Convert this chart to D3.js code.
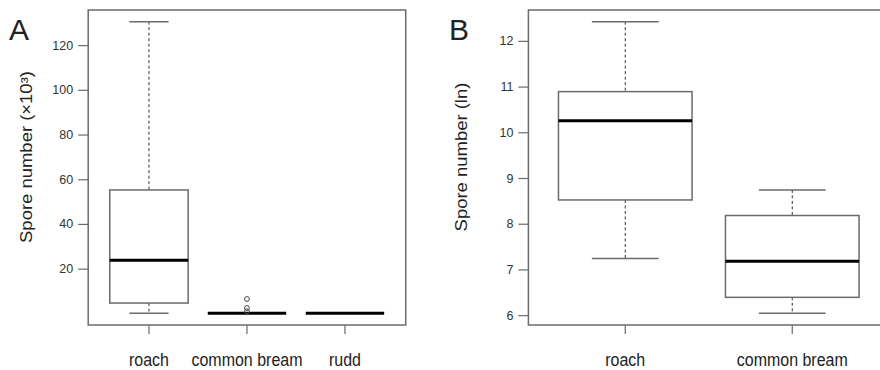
<!DOCTYPE html>
<html>
<head>
<meta charset="utf-8">
<script src="https://cdn.jsdelivr.net/npm/d3@7"></script>
<style>
  body { margin: 0; background: #fff; }
  text { font-family: "Liberation Sans", Arial, Helvetica, sans-serif; }
</style>
</head>
<body>
<div id="chart"></div>
<script>
const w = 880;
const h = 370;

// panel A: raw counts (x10^3)
const speciesA = ["roach", "common bream", "rudd"];
const lowA = [0, 0, 0];
const q1A = [4.6, 0, 0];
const medA = [23.7, 0, 0];
const q3A = [55.2, 0, 0];
const highA = [130.5, 0, 0];
const outA = [[], [6.4, 2.4, 0.9], []];
const ticksA = [20, 40, 60, 80, 100, 120];

// panel B: ln transformed
const speciesB = ["roach", "common bream"];
const lowB = [7.24, 6.04];
const q1B = [8.52, 6.39];
const medB = [10.25, 7.18];
const q3B = [10.89, 8.18];
const highB = [12.42, 8.74];
const outB = [[], []];
const ticksB = [6, 7, 8, 9, 10, 11, 12];

let svg = d3.select('#chart')
	.append('svg')
		.attr('width', w)
		.attr('height', h);

const lineCol = '#6b6b6b';

function panel(opt) {
	const n = opt.species.length;
	const lo = d3.min(opt.low.concat(opt.out.flat()));
	const hi = d3.max(opt.high.concat(opt.out.flat()));
	const pad = (hi - lo) * 0.04;

	// R style limits: 0.5..n+0.5, then extended 4%
	const xpad = n * 0.04;
	let xScale = d3.scaleLinear()
		.domain([0.5 - xpad, n + 0.5 + xpad])
		.range([opt.left, opt.left + opt.unit * (n + 2 * xpad)]);
	let yScale = d3.scaleLinear()
		.domain([lo - pad, hi + pad])
		.range([opt.bottom, opt.top]);

	const g = svg.append('g');
	const bw = opt.unit * 0.8;

	opt.species.forEach((s, i) => {
		const cx = xScale(i + 1);
		// whiskers
		g.append('line')
			.attr('x1', cx).attr('x2', cx)
			.attr('y1', yScale(opt.high[i])).attr('y2', yScale(opt.q3[i]))
			.attr('stroke', '#333').attr('stroke-width', 1)
			.attr('stroke-dasharray', '3,2.5');
		g.append('line')
			.attr('x1', cx).attr('x2', cx)
			.attr('y1', yScale(opt.q1[i])).attr('y2', yScale(opt.low[i]))
			.attr('stroke', '#333').attr('stroke-width', 1)
			.attr('stroke-dasharray', '3,2.5');
		[opt.high[i], opt.low[i]].forEach((v) => {
			g.append('line')
				.attr('x1', cx - bw / 4).attr('x2', cx + bw / 4)
				.attr('y1', yScale(v)).attr('y2', yScale(v))
				.attr('stroke', lineCol).attr('stroke-width', 1.5);
		});
		// box
		g.append('rect')
			.attr('x', cx - bw / 2)
			.attr('y', yScale(opt.q3[i]))
			.attr('width', bw)
			.attr('height', yScale(opt.q1[i]) - yScale(opt.q3[i]))
			.attr('fill', '#fff')
			.attr('stroke', lineCol).attr('stroke-width', 1.5);
		// median
		g.append('line')
			.attr('x1', cx - bw / 2).attr('x2', cx + bw / 2)
			.attr('y1', yScale(opt.med[i])).attr('y2', yScale(opt.med[i]))
			.attr('stroke', '#000').attr('stroke-width', 3);
		// outliers
		g.selectAll(null)
			.data(opt.out[i])
			.enter()
			.append('circle')
			.attr('cx', cx)
			.attr('cy', (d) => yScale(d))
			.attr('r', 2.4)
			.attr('fill', 'none')
			.attr('stroke', '#444').attr('stroke-width', 1);
	});

	// frame
	g.append('rect')
		.attr('x', xScale.range()[0])
		.attr('y', opt.top)
		.attr('width', xScale.range()[1] - xScale.range()[0])
		.attr('height', opt.bottom - opt.top)
		.attr('fill', 'none')
		.attr('stroke', lineCol).attr('stroke-width', 1.5);

	// y axis
	let yAxis = g.append('g')
		.attr('transform', 'translate(' + xScale.range()[0] + ',0)')
		.call(d3.axisLeft(yScale).tickValues(opt.ticks).tickFormat(d3.format('d'))
			.tickSize(10).tickPadding(5));
	yAxis.select('.domain').remove();
	yAxis.selectAll('line').attr('stroke', lineCol).attr('stroke-width', 1.2);
	yAxis.selectAll('text')
		.attr('font-size', 12.5)
		.attr('fill', '#333')
		.style('font-family', '"Liberation Sans", Arial, sans-serif');

	// x ticks and labels
	opt.species.forEach((s, i) => {
		const cx = xScale(i + 1);
		g.append('line')
			.attr('x1', cx).attr('x2', cx)
			.attr('y1', opt.bottom).attr('y2', opt.bottom + 9)
			.attr('stroke', lineCol).attr('stroke-width', 1.2);
		g.append('text')
			.attr('transform', 'translate(' + cx + ',366) scale(1,1.12)')
			.attr('text-anchor', 'middle')
			.attr('font-size', 16)
			.attr('fill', '#222')
			.text(s);
	});

	// y label
	g.append('text')
		.attr('transform', 'translate(' + opt.labelX + ',157) rotate(-90) scale(1.12,1)')
		.attr('text-anchor', 'middle')
		.attr('font-size', 16.5)
		.attr('fill', '#222')
		.text(opt.ylab);

	// panel letter
	g.append('text')
		.attr('x', opt.letterX)
		.attr('y', 40)
		.attr('font-size', 30)
		.attr('fill', '#222')
		.text(opt.letter);
}

panel({
	species: speciesA, low: lowA, q1: q1A, med: medA, q3: q3A, high: highA, out: outA,
	ticks: ticksA, left: 88.2, unit: 98, top: 10, bottom: 325,
	ylab: 'Spore number (×10³)', labelX: 32, letter: 'A', letterX: 9
});

panel({
	species: speciesB, low: lowB, q1: q1B, med: medB, q3: q3B, high: highB, out: outB,
	ticks: ticksB, left: 528.4, unit: 167, top: 10, bottom: 325,
	ylab: 'Spore number (ln)', labelX: 467, letter: 'B', letterX: 449
});
</script>
</body>
</html>
